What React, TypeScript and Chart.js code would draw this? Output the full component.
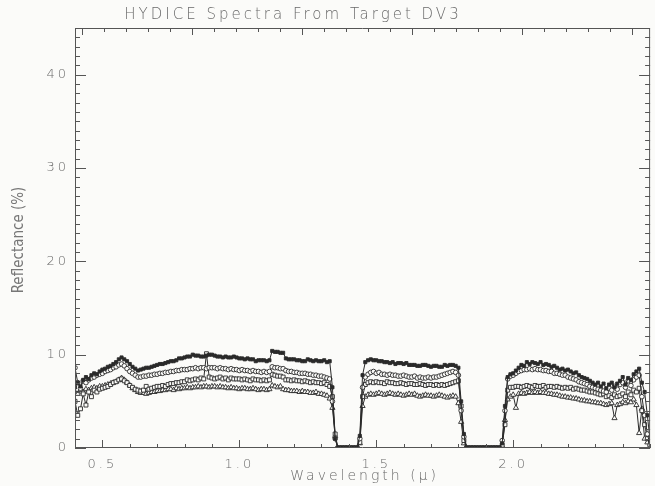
import React, { useEffect, useRef } from "react";
import { Chart, registerables } from "chart.js";

Chart.register(...registerables);

const TITLE = "HYDICE Spectra From Target DV3";
const X_TITLE = "Wavelength (\u03bc)";
const Y_TITLE = "Reflectance (%)";

const xMajorTicks = [0.5, 1.0, 1.5, 2.0];
const xMinorStep = 0.1;
const yMajorTicks = [0, 10, 20, 30, 40];
const yMinorStep = 1;
const topMajorEvery = 5;

const wavelengths = [
  0.40, 0.41, 0.42, 0.43, 0.44, 0.45, 0.46, 0.47, 0.48, 0.49,
  0.50, 0.51, 0.52, 0.53, 0.54, 0.55, 0.56, 0.57, 0.58, 0.59,
  0.60, 0.61, 0.62, 0.63, 0.64, 0.65, 0.66, 0.67, 0.68, 0.69,
  0.70, 0.71, 0.72, 0.73, 0.74, 0.75, 0.76, 0.77, 0.78, 0.79,
  0.80, 0.81, 0.82, 0.83, 0.84, 0.85, 0.86, 0.87, 0.88, 0.89,
  0.90, 0.91, 0.92, 0.93, 0.94, 0.95, 0.96, 0.97, 0.98, 0.99,
  1.00, 1.01, 1.02, 1.03, 1.04, 1.05, 1.06, 1.07, 1.08, 1.09,
  1.10, 1.11, 1.12, 1.13, 1.14, 1.15, 1.16, 1.17, 1.18, 1.19,
  1.20, 1.21, 1.22, 1.23, 1.24, 1.25, 1.26, 1.27, 1.28, 1.29,
  1.30, 1.31, 1.32, 1.33, 1.34, 1.35, 1.36, 1.37, 1.38, 1.39,
  1.40, 1.41, 1.42, 1.43, 1.44, 1.45, 1.46, 1.47, 1.48, 1.49,
  1.50, 1.51, 1.52, 1.53, 1.54, 1.55, 1.56, 1.57, 1.58, 1.59,
  1.60, 1.61, 1.62, 1.63, 1.64, 1.65, 1.66, 1.67, 1.68, 1.69,
  1.70, 1.71, 1.72, 1.73, 1.74, 1.75, 1.76, 1.77, 1.78, 1.79,
  1.80, 1.81, 1.82, 1.83, 1.84, 1.85, 1.86, 1.87, 1.88, 1.89,
  1.90, 1.91, 1.92, 1.93, 1.94, 1.95, 1.96, 1.97, 1.98, 1.99,
  2.00, 2.01, 2.02, 2.03, 2.04, 2.05, 2.06, 2.07, 2.08, 2.09,
  2.10, 2.11, 2.12, 2.13, 2.14, 2.15, 2.16, 2.17, 2.18, 2.19,
  2.20, 2.21, 2.22, 2.23, 2.24, 2.25, 2.26, 2.27, 2.28, 2.29,
  2.30, 2.31, 2.32, 2.33, 2.34, 2.35, 2.36, 2.37, 2.38, 2.39,
  2.40, 2.41, 2.42, 2.43, 2.44, 2.45, 2.46, 2.47, 2.48, 2.49,
  2.50,
];

// filled squares (highest spectrum)
const seriesA = [
  6.5, 7.0, 6.6, 7.3, 7.6, 7.4, 7.8, 8.0, 7.9, 8.2,
  8.4, 8.5, 8.7, 8.8, 9.0, 9.2, 9.5, 9.7, 9.5, 9.3,
  9.0, 8.7, 8.5, 8.3, 8.4, 8.5, 8.6, 8.6, 8.7, 8.8,
  8.9, 9.0, 9.0, 9.1, 9.2, 9.3, 9.3, 9.4, 9.6, 9.6,
  9.7, 9.8, 9.8, 10.0, 9.9, 9.9, 9.8, 9.8, 9.9, 10.0,
  10.0, 9.9, 9.8, 9.8, 9.7, 9.8, 9.7, 9.7, 9.8, 9.7,
  9.6, 9.6, 9.5, 9.6, 9.5, 9.5, 9.3, 9.4, 9.4, 9.4,
  9.3, 9.4, 10.4, 10.3, 10.3, 10.2, 10.2, 9.6, 9.5, 9.5,
  9.5, 9.4, 9.4, 9.3, 9.3, 9.5, 9.4, 9.3, 9.4, 9.3,
  9.3, 9.4, 9.2, 9.3, 6.5, 1.0, 0, 0, 0, 0,
  0, 0, 0, 0, 1.3, 7.8, 9.2, 9.4, 9.5, 9.4,
  9.4, 9.3, 9.3, 9.2, 9.2, 9.1, 9.2, 9.0, 9.1, 9.1,
  9.0, 9.1, 8.9, 8.9, 8.9, 8.8, 8.8, 8.9, 8.9, 8.8,
  8.7, 8.8, 8.8, 8.7, 8.7, 8.9, 8.8, 8.9, 8.9, 8.8,
  8.6, 5.0, 1.5, 0, 0, 0, 0, 0, 0, 0,
  0, 0, 0, 0, 0, 0, 0.5, 4.5, 7.6, 7.9,
  8.0, 8.3, 8.6, 8.9, 8.8, 9.2, 9.0, 9.2, 9.1, 9.0,
  9.2, 8.9, 9.0, 8.9, 8.7, 8.8, 8.6, 8.4, 8.5, 8.3,
  8.4, 8.2, 8.0, 8.1, 7.8, 7.6, 7.5, 7.4, 7.2, 7.0,
  6.8, 7.0, 6.6, 6.9, 6.4, 6.8, 7.0, 6.5, 6.9, 7.2,
  7.6, 6.8, 7.5, 7.3, 7.9, 8.2, 8.5, 7.0, 6.0, 3.5,
  0.8,
];

// open circles
const seriesB = [
  8.6, 7.0, 6.4, 7.2, 7.0, 7.3, 7.5, 7.6, 7.8, 7.9,
  8.0, 8.2, 8.3, 8.4, 8.6, 8.7, 8.9, 9.0, 8.8, 8.5,
  8.2, 8.0, 7.8, 7.6, 7.6, 7.7, 7.7, 7.8, 7.8, 7.9,
  7.9, 8.0, 8.0, 8.1, 8.1, 8.2, 8.2, 8.3, 8.3, 8.4,
  8.4, 8.4, 8.5, 8.5, 8.6, 8.5, 8.6, 8.6, 8.5, 8.6,
  8.6, 8.6, 8.5, 8.6, 8.5, 8.5, 8.4, 8.5, 8.4, 8.4,
  8.3, 8.4, 8.3, 8.3, 8.2, 8.3, 8.2, 8.2, 8.1, 8.2,
  8.1, 8.2, 8.7, 8.6, 8.6, 8.5, 8.5, 8.3, 8.2, 8.2,
  8.1, 8.1, 8.0, 8.0, 8.0, 7.9, 7.9, 7.8, 7.8, 7.7,
  7.7, 7.6, 7.5, 7.4, 5.0, 1.0, 0, 0, 0, 0,
  0, 0, 0, 0, 1.0, 6.5, 7.6, 7.9, 8.1, 8.2,
  8.0, 8.1, 7.9, 7.9, 7.8, 7.9, 7.8, 7.8, 7.7, 7.7,
  7.8, 7.7, 7.6, 7.6, 7.7, 7.5, 7.6, 7.5, 7.5, 7.6,
  7.5, 7.6, 7.6, 7.7, 7.8, 7.9, 8.0, 8.1, 8.2, 8.1,
  7.8, 4.0, 1.2, 0, 0, 0, 0, 0, 0, 0,
  0, 0, 0, 0, 0, 0, 0.8, 4.0, 7.4, 7.7,
  7.8, 8.0, 8.2, 8.3, 8.4, 8.4, 8.5, 8.4, 8.5, 8.4,
  8.4, 8.3, 8.3, 8.2, 8.2, 8.0, 8.0, 7.9, 7.8, 7.8,
  7.6, 7.5, 7.4, 7.3, 7.1, 7.0, 6.9, 6.8, 6.6, 6.5,
  6.4, 6.3, 6.2, 6.1, 6.0, 6.4, 6.2, 6.6, 6.3, 6.8,
  7.0, 6.5, 7.2, 6.7, 7.3, 7.6, 7.8, 5.5, 3.5, 1.5,
  0.3,
];

// open squares
const seriesC = [
  5.0, 3.5, 4.2, 5.8, 4.6, 6.0, 5.5, 6.2, 6.0, 6.3,
  6.4, 6.5, 6.6, 6.8, 7.0, 7.1, 7.3, 7.4, 7.2, 7.0,
  6.7, 6.5, 6.3, 6.2, 6.1, 6.2, 6.6, 6.3, 6.4, 6.5,
  6.6, 6.6, 6.7, 6.6, 6.8, 6.9, 6.9, 7.0, 7.0, 7.1,
  7.1, 7.3, 7.2, 7.3, 7.4, 7.3, 7.5, 7.4, 10.1, 7.6,
  7.5, 7.4, 7.5, 7.6, 7.4, 7.5, 7.3, 7.5, 7.4, 7.4,
  7.4, 7.3, 7.4, 7.3, 7.2, 7.4, 7.3, 7.3, 7.2, 7.3,
  7.2, 7.3, 7.9, 7.8, 7.7, 7.7, 7.6, 7.3, 7.3, 7.2,
  7.3, 7.2, 7.2, 7.1, 7.2, 7.1, 7.0, 7.1, 7.0, 7.0,
  6.9, 7.0, 6.8, 6.6, 5.5, 1.5, 0, 0, 0, 0,
  0, 0, 0, 0, 0.6, 5.5, 6.8, 7.0, 7.1, 7.0,
  7.1, 7.0, 7.0, 6.9, 7.1, 7.0, 7.0, 6.9, 6.9, 7.0,
  6.9, 6.8, 6.9, 6.9, 6.8, 6.8, 6.9, 6.8, 6.7, 6.8,
  6.8, 6.7, 6.8, 6.7, 6.8, 6.7, 6.8, 6.9, 7.0, 7.1,
  7.2, 4.5, 0.8, 0, 0, 0, 0, 0, 0, 0,
  0, 0, 0, 0, 0, 0, 0.3, 2.5, 6.2, 6.5,
  6.5, 6.6, 6.6, 6.5, 6.6, 6.7, 6.6, 6.5, 6.7, 6.6,
  6.6, 6.7, 6.5, 6.6, 6.6, 6.5, 6.6, 6.5, 6.4, 6.5,
  6.4, 6.5, 6.3, 6.4, 6.3, 6.2, 6.2, 6.1, 6.0, 6.0,
  5.9, 5.8, 5.7, 5.8, 5.5, 5.6, 5.4, 5.7, 5.5, 5.6,
  5.8, 5.5, 6.0, 5.7, 6.2, 6.0, 6.4, 4.0, 2.5, 1.0,
  0.2,
];

// open triangles (lowest spectrum)
const seriesD = [
  6.0, 5.8, 6.2, 6.0, 6.3, 6.2, 6.4, 6.5, 6.4, 6.6,
  6.6, 6.7, 6.8, 6.9, 7.0, 7.1, 7.3, 7.5, 7.3, 7.0,
  6.7, 6.4, 6.2, 6.0, 5.9, 5.9, 5.8, 5.9, 6.0, 6.0,
  6.1, 6.1, 6.2, 6.2, 6.3, 6.3, 6.2, 6.4, 6.3, 6.4,
  6.4, 6.5, 6.4, 6.5, 6.5, 6.6, 6.5, 6.6, 6.6, 6.5,
  6.6, 6.6, 6.5, 6.6, 6.5, 6.5, 6.4, 6.5, 6.4, 6.4,
  6.3, 6.4, 6.4, 6.3, 6.3, 6.4, 6.3, 6.2, 6.3, 6.3,
  6.2, 6.3, 6.7, 6.6, 6.5, 6.6, 6.3, 6.2, 6.2, 6.1,
  6.1, 6.1, 6.0, 6.1, 6.0, 6.0, 5.9, 5.9, 6.0, 5.8,
  5.8, 5.7, 5.6, 5.3, 4.3, 1.3, 0, 0, 0, 0,
  0, 0, 0, 0, 0.5, 4.5, 5.5, 5.7, 5.8, 5.7,
  5.8, 5.9, 5.8, 5.7, 5.8, 5.9, 5.8, 5.7, 5.8, 5.7,
  5.6, 5.7, 5.8, 5.7, 5.8, 5.6, 5.5, 5.6, 5.7, 5.6,
  5.6, 5.5, 5.6, 5.7, 5.6, 5.5, 5.4, 5.5, 5.6, 5.5,
  4.8, 2.8, 0.5, 0, 0, 0, 0, 0, 0, 0,
  0, 0, 0, 0, 0, 0, 0.2, 3.0, 5.2, 5.5,
  5.7, 4.3, 5.8, 5.9, 5.8, 5.9, 6.0, 5.9, 6.0, 5.9,
  6.0, 5.9, 5.9, 5.8, 5.8, 5.7, 5.7, 5.6, 5.5, 5.5,
  5.4, 5.4, 5.3, 5.3, 5.2, 5.1, 5.1, 5.0, 5.0, 4.9,
  4.9, 4.8, 4.8, 4.7, 4.6, 4.7, 4.8, 3.2, 4.6, 4.7,
  4.9, 4.8, 5.0, 4.9, 5.2, 4.6, 1.6, 4.2, 1.0, 0.6,
  0.1,
];

const BG = "#fbfbf9";
const INK = "#2a2a2a";
const TEXT = "#6a6a6a";
const FRAME = "#555555";
const FONT = '"DejaVu Sans", sans-serif';

const xy = (vals: number[]) => vals.map((v, i) => ({ x: wavelengths[i], y: v }));

const idlFrame = {
  id: "idlFrame",
  beforeDraw(chart: any) {
    const ctx = chart.ctx;
    ctx.save();
    ctx.fillStyle = BG;
    ctx.fillRect(0, 0, chart.width, chart.height);
    ctx.restore();
    ctx.letterSpacing = "3px";
  },
  afterDraw(chart: any) {
    const { ctx, chartArea: a, scales } = chart;
    const xs = scales.x;
    const ys = scales.y;
    const xt = scales.xTop;
    ctx.save();
    ctx.strokeStyle = FRAME;
    ctx.lineWidth = 1;
    ctx.beginPath();
    ctx.rect(a.left + 0.5, a.top + 0.5, a.right - a.left - 1, a.bottom - a.top - 1);
    ctx.stroke();
    ctx.beginPath();
    // bottom axis ticks (inward)
    for (let k = Math.round(xs.min / xMinorStep); k <= Math.round(xs.max / xMinorStep); k++) {
      const v = k * xMinorStep;
      const major = xMajorTicks.some((m) => Math.abs(m - v) < 1e-6);
      const px = Math.round(xs.getPixelForValue(v)) + 0.5;
      const len = major ? 8 : 4;
      ctx.moveTo(px, a.bottom);
      ctx.lineTo(px, a.bottom - len);
    }
    // top axis ticks
    for (let k = Math.ceil(xt.min); k <= Math.floor(xt.max); k++) {
      const px = Math.round(xt.getPixelForValue(k)) + 0.5;
      const len = k % topMajorEvery === 0 ? 7 : 4;
      ctx.moveTo(px, a.top);
      ctx.lineTo(px, a.top + len);
    }
    // left & right axis ticks
    for (let v = ys.min; v <= ys.max; v += yMinorStep) {
      const major = yMajorTicks.includes(v);
      const py = Math.round(ys.getPixelForValue(v)) + 0.5;
      const len = major ? 11 : 5;
      ctx.moveTo(a.left, py);
      ctx.lineTo(a.left + len, py);
      ctx.moveTo(a.right, py);
      ctx.lineTo(a.right - len, py);
    }
    ctx.stroke();

    ctx.fillStyle = TEXT;
    ctx.textAlign = "center";
    ctx.textBaseline = "middle";
    ctx.letterSpacing = "3px";
    ctx.font = `200 15px ${FONT}`;
    ctx.fillText(TITLE, 293, 15);
    ctx.font = `200 14px ${FONT}`;
    ctx.fillText(X_TITLE, (a.left + a.right) / 2 + 2, 476);
    ctx.letterSpacing = "0px";
    ctx.translate(19, (a.top + a.bottom) / 2 + 2);
    ctx.rotate(-Math.PI / 2);
    ctx.font = `15px "Liberation Sans Narrow", "DejaVu Sans Condensed", sans-serif`;
    ctx.fillStyle = "#777";
    ctx.fillText(Y_TITLE, 0, 0);
    ctx.restore();
  },
};

function makeDataset(label: string, vals: number[], style: string, filled: boolean, radius: number) {
  return {
    label,
    data: xy(vals),
    borderColor: INK,
    borderWidth: 1,
    pointStyle: style,
    pointRadius: radius,
    pointBorderWidth: 0.9,
    pointBorderColor: INK,
    pointBackgroundColor: filled ? INK : BG,
    backgroundColor: INK,
    tension: 0,
    fill: false,
  };
}

export default function App() {
  const ref = useRef<HTMLCanvasElement | null>(null);
  useEffect(() => {
    if (!ref.current) return;
    const chart = new Chart(ref.current, {
      type: "line",
      data: {
        datasets: [
          makeDataset("A", seriesA, "rect", true, 2.2),
          makeDataset("B", seriesB, "circle", false, 2.3),
          makeDataset("C", seriesC, "rect", false, 2.8),
          makeDataset("D", seriesD, "triangle", false, 3),
        ] as any,
      },
      options: {
        animation: false,
        responsive: false,
        events: [],
        layout: { padding: { top: 28, right: 1, bottom: 0, left: 0 } },
        plugins: { legend: { display: false }, tooltip: { enabled: false }, title: { display: false } },
        scales: {
          x: {
            type: "linear",
            min: 0.4,
            max: 2.5,
            grid: { display: false, drawTicks: false },
            border: { display: false },
            afterBuildTicks: (s: any) => {
              s.ticks = xMajorTicks.map((v) => ({ value: v }));
            },
            afterFit: (s: any) => {
              s.height = 38;
            },
            ticks: {
              padding: 9,
              color: TEXT,
              font: { family: FONT, size: 13, weight: "200" as any },
              callback: (v: any) => Number(v).toFixed(1),
              maxRotation: 0,
              autoSkip: false,
            },
          },
          xTop: {
            type: "linear",
            position: "top",
            display: false,
            min: -0.32,
            max: 25.8,
          },
          y: {
            type: "linear",
            min: 0,
            max: 45,
            grid: { display: false, drawTicks: false },
            border: { display: false },
            afterBuildTicks: (s: any) => {
              s.ticks = yMajorTicks.map((v) => ({ value: v }));
            },
            afterFit: (s: any) => {
              s.width = 75;
            },
            ticks: {
              padding: 6,
              color: TEXT,
              font: { family: FONT, size: 13, weight: "200" as any },
              autoSkip: false,
            },
          },
        },
      } as any,
      plugins: [idlFrame],
    });
    return () => chart.destroy();
  }, []);
  return (
    <div style={{ position: "absolute", left: 0, top: 0, width: 655, height: 486, background: BG }}>
      <canvas ref={ref} width={655} height={486} style={{ display: "block" }} />
    </div>
  );
}
